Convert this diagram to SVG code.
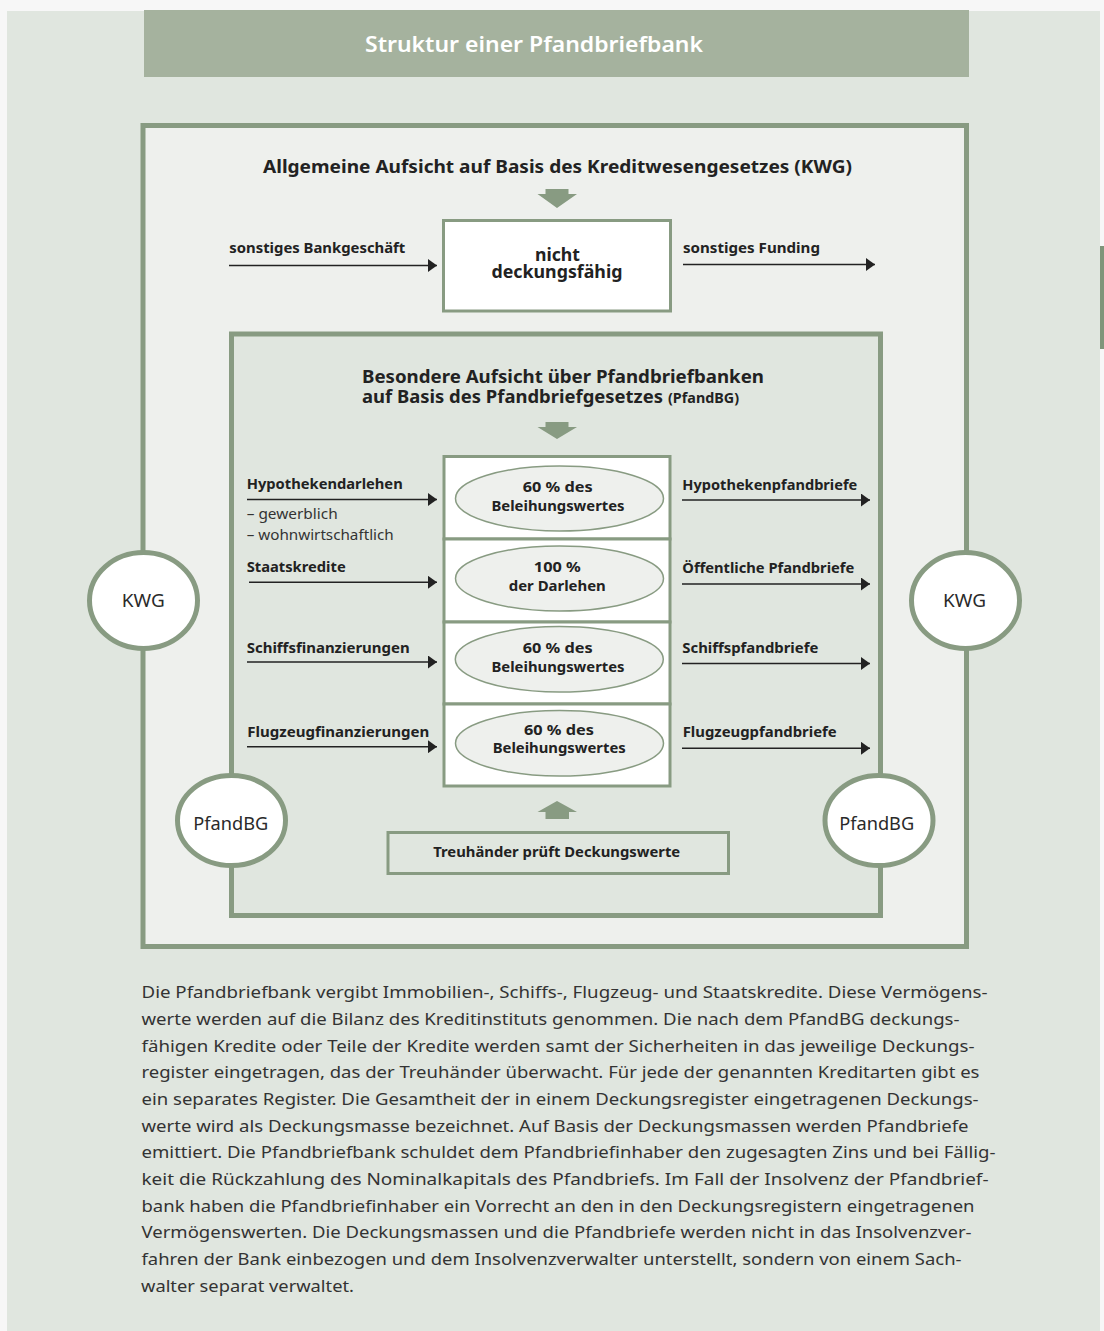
<svg xmlns="http://www.w3.org/2000/svg" width="1104" height="1331" viewBox="0 0 1104 1331">
<style>
  .frame { stroke: #889b82; stroke-width: 5; }
  .box { fill: #ffffff; stroke: #889b82; stroke-width: 3; }
  .ell { fill: #eef0ed; stroke: #889b82; stroke-width: 1.5; }
  .circ { fill: #ffffff; stroke: #889b82; stroke-width: 5; }
  .blk { fill: #889b82; }
  .t { font-family: "Noto Sans", "Open Sans", "DejaVu Sans", sans-serif; fill: #222222; }
  .b { font-weight: bold; }
  .lbl { font-size: 15px; font-weight: bold; }
  .sub { font-size: 15px; fill: #333333; }
  .hd { font-size: 18px; font-weight: bold; }
  .hd2 { font-size: 17px; font-weight: bold; }
  .reg { font-size: 18px; fill: #2a2a2a; }
  .par { font-size: 17px; fill: #333333; }
  .mid { text-anchor: middle; }
  .arr { stroke: #222222; stroke-width: 1.5; fill: none; marker-end: url(#ah); }
</style>
<defs>
  <marker id="ah" markerUnits="userSpaceOnUse" markerWidth="9" markerHeight="13" refX="9" refY="6.5" orient="auto">
    <path d="M0,0 L9,6.5 L0,13 z" fill="#222222"/>
  </marker>
</defs>

<rect x="0" y="0" width="1104" height="1331" fill="#f7f7f7"/>
<rect x="7" y="11" width="1093" height="1320" fill="#e0e6df"/>
<rect x="1100" y="246" width="4" height="103" fill="#7f957a"/>

<g id="title">
  <rect x="144" y="10" width="825" height="67" fill="#a5b29e"/>
  <text x="365" y="52" class="t" font-size="21" font-weight="600" style="fill:#ffffff" textLength="338" lengthAdjust="spacingAndGlyphs">Struktur einer Pfandbriefbank</text>
</g>

<g id="kwg-frame">
  <rect x="143" y="125.5" width="823.5" height="821" fill="#eef0ed" class="frame"/>
  <text x="263" y="172.5" class="t hd" textLength="589" lengthAdjust="spacingAndGlyphs">Allgemeine Aufsicht auf Basis des Kreditwesengesetzes (KWG)</text>
  <polygon class="blk" points="545.5,189 568.5,189 568.5,194 577,194 557,208 537.5,194 545.5,194"/>
</g>

<g id="nicht-deckungsfaehig">
  <rect x="443.5" y="220.5" width="227" height="90.5" class="box"/>
  <text x="557.5" y="260.5" class="t hd2 mid" textLength="45" lengthAdjust="spacingAndGlyphs">nicht</text>
  <text x="557" y="277.5" class="t hd2 mid" textLength="131" lengthAdjust="spacingAndGlyphs">deckungsfähig</text>
</g>

<g id="pfandbg-frame">
  <rect x="231.5" y="334" width="649" height="581.5" fill="#e0e6df" class="frame"/>
  <text x="362" y="382.5" class="t hd2" textLength="402" lengthAdjust="spacingAndGlyphs">Besondere Aufsicht über Pfandbriefbanken</text>
  <text x="362" y="402.5" class="t hd2" textLength="301" lengthAdjust="spacingAndGlyphs">auf Basis des Pfandbriefgesetzes</text>
  <text x="668" y="402.5" class="t b" font-size="14" textLength="71" lengthAdjust="spacingAndGlyphs">(PfandBG)</text>
  <polygon class="blk" points="545.5,422 568.5,422 568.5,427 577,427 557,439 537.5,427 545.5,427"/>
</g>

<g id="deckung-hypothek">
  <rect x="444" y="456.5" width="226" height="82.5" class="box"/>
  <ellipse cx="559.5" cy="498.5" rx="104" ry="32.5" class="ell"/>
  <text x="557.7" y="492.3" class="t lbl mid" textLength="70" lengthAdjust="spacingAndGlyphs">60 % des</text>
  <text x="558" y="511" class="t lbl mid" textLength="133" lengthAdjust="spacingAndGlyphs">Beleihungswertes</text>
</g>
<g id="deckung-staat">
  <rect x="444" y="539" width="226" height="83" class="box"/>
  <ellipse cx="559.5" cy="578.5" rx="104" ry="32.5" class="ell"/>
  <text x="557.3" y="571.7" class="t lbl mid" textLength="47" lengthAdjust="spacingAndGlyphs">100 %</text>
  <text x="557.3" y="591" class="t lbl mid" textLength="97" lengthAdjust="spacingAndGlyphs">der Darlehen</text>
</g>
<g id="deckung-schiff">
  <rect x="444" y="622" width="226" height="82" class="box"/>
  <ellipse cx="559.3" cy="659.3" rx="104" ry="32.7" class="ell"/>
  <text x="557.7" y="653.3" class="t lbl mid" textLength="70" lengthAdjust="spacingAndGlyphs">60 % des</text>
  <text x="558" y="671.7" class="t lbl mid" textLength="133" lengthAdjust="spacingAndGlyphs">Beleihungswertes</text>
</g>
<g id="deckung-flugzeug">
  <rect x="444" y="704" width="226" height="82" class="box"/>
  <ellipse cx="559.5" cy="743.3" rx="104" ry="32.7" class="ell"/>
  <text x="559" y="735" class="t lbl mid" textLength="70" lengthAdjust="spacingAndGlyphs">60 % des</text>
  <text x="559.2" y="753.3" class="t lbl mid" textLength="133" lengthAdjust="spacingAndGlyphs">Beleihungswertes</text>
</g>

<g id="treuhaender">
  <polygon class="blk" points="557,801 577,812 569,812 569,819 545.5,819 545.5,812 537.5,812"/>
  <rect x="388" y="832.5" width="340.5" height="41" fill="#e0e6df" stroke="#889b82" stroke-width="3"/>
  <text x="556.7" y="856.7" class="t lbl mid" textLength="247" lengthAdjust="spacingAndGlyphs">Treuhänder prüft Deckungswerte</text>
</g>

<g id="kwg-left">
  <ellipse cx="143.5" cy="600.5" rx="54" ry="48" class="circ"/>
  <text x="143.3" y="607.3" class="t reg mid" textLength="43" lengthAdjust="spacingAndGlyphs">KWG</text>
</g>
<g id="kwg-right">
  <ellipse cx="965.5" cy="600.5" rx="54" ry="48" class="circ"/>
  <text x="964.5" y="607.3" class="t reg mid" textLength="43" lengthAdjust="spacingAndGlyphs">KWG</text>
</g>
<g id="pfandbg-left">
  <ellipse cx="231.5" cy="820.5" rx="54" ry="45" class="circ"/>
  <text x="230.8" y="830" class="t reg mid" textLength="75" lengthAdjust="spacingAndGlyphs">PfandBG</text>
</g>
<g id="pfandbg-right">
  <ellipse cx="879" cy="820.5" rx="54" ry="45" class="circ"/>
  <text x="876.7" y="830" class="t reg mid" textLength="75" lengthAdjust="spacingAndGlyphs">PfandBG</text>
</g>

<g id="connectors">
  <line x1="229" y1="265.5" x2="437" y2="265.5" class="arr"/>
  <line x1="683" y1="264.5" x2="875" y2="264.5" class="arr"/>
  <line x1="247" y1="499.5" x2="437" y2="499.5" class="arr"/>
  <line x1="249" y1="582.3" x2="437" y2="582.3" class="arr"/>
  <line x1="247" y1="662" x2="437" y2="662" class="arr"/>
  <line x1="247" y1="746.7" x2="437" y2="746.7" class="arr"/>
  <line x1="682" y1="500" x2="870" y2="500" class="arr"/>
  <line x1="682" y1="584" x2="870" y2="584" class="arr"/>
  <line x1="682" y1="663.5" x2="870" y2="663.5" class="arr"/>
  <line x1="682" y1="748.3" x2="870" y2="748.3" class="arr"/>
</g>

<g id="labels">
  <text x="229.3" y="253.3" class="t lbl" textLength="176" lengthAdjust="spacingAndGlyphs">sonstiges Bankgeschäft</text>
  <text x="683" y="253.3" class="t lbl" textLength="137" lengthAdjust="spacingAndGlyphs">sonstiges Funding</text>
  <text x="246.7" y="489" class="t lbl" textLength="156" lengthAdjust="spacingAndGlyphs">Hypothekendarlehen</text>
  <text x="246.7" y="519" class="t sub" textLength="91" lengthAdjust="spacingAndGlyphs">– gewerblich</text>
  <text x="246.7" y="540" class="t sub" textLength="147" lengthAdjust="spacingAndGlyphs">– wohnwirtschaftlich</text>
  <text x="246.7" y="571.7" class="t lbl" textLength="99" lengthAdjust="spacingAndGlyphs">Staatskredite</text>
  <text x="246.7" y="653" class="t lbl" textLength="163" lengthAdjust="spacingAndGlyphs">Schiffsfinanzierungen</text>
  <text x="247.3" y="736.7" class="t lbl" textLength="182" lengthAdjust="spacingAndGlyphs">Flugzeugfinanzierungen</text>
  <text x="682.3" y="490" class="t lbl" textLength="175" lengthAdjust="spacingAndGlyphs">Hypothekenpfandbriefe</text>
  <text x="682.3" y="572.7" class="t lbl" textLength="172" lengthAdjust="spacingAndGlyphs">Öffentliche Pfandbriefe</text>
  <text x="682.3" y="653" class="t lbl" textLength="136" lengthAdjust="spacingAndGlyphs">Schiffspfandbriefe</text>
  <text x="682.7" y="737.3" class="t lbl" textLength="154" lengthAdjust="spacingAndGlyphs">Flugzeugpfandbriefe</text>
</g>

<g id="paragraph" class="t par">
  <text x="141.5" y="998.3" textLength="846" lengthAdjust="spacingAndGlyphs">Die Pfandbriefbank vergibt Immobilien-, Schiffs-, Flugzeug- und Staatskredite. Diese Vermögens-</text>
  <text x="141.5" y="1025" textLength="818" lengthAdjust="spacingAndGlyphs">werte werden auf die Bilanz des Kreditinstituts genommen. Die nach dem PfandBG deckungs-</text>
  <text x="141.5" y="1051.7" textLength="833" lengthAdjust="spacingAndGlyphs">fähigen Kredite oder Teile der Kredite werden samt der Sicherheiten in das jeweilige Deckungs-</text>
  <text x="141.5" y="1078.3" textLength="838" lengthAdjust="spacingAndGlyphs">register eingetragen, das der Treuhänder überwacht. Für jede der genannten Kreditarten gibt es</text>
  <text x="141.5" y="1105" textLength="837" lengthAdjust="spacingAndGlyphs">ein separates Register. Die Gesamtheit der in einem Deckungsregister eingetragenen Deckungs-</text>
  <text x="141.5" y="1131.7" textLength="827" lengthAdjust="spacingAndGlyphs">werte wird als Deckungsmasse bezeichnet. Auf Basis der Deckungsmassen werden Pfandbriefe</text>
  <text x="141.5" y="1158.3" textLength="854" lengthAdjust="spacingAndGlyphs">emittiert. Die Pfandbriefbank schuldet dem Pfandbriefinhaber den zugesagten Zins und bei Fällig-</text>
  <text x="141.5" y="1185" textLength="847" lengthAdjust="spacingAndGlyphs">keit die Rückzahlung des Nominalkapitals des Pfandbriefs. Im Fall der Insolvenz der Pfandbrief-</text>
  <text x="141.5" y="1211.7" textLength="833" lengthAdjust="spacingAndGlyphs">bank haben die Pfandbriefinhaber ein Vorrecht an den in den Deckungsregistern eingetragenen</text>
  <text x="141.5" y="1238.3" textLength="830" lengthAdjust="spacingAndGlyphs">Vermögenswerten. Die Deckungsmassen und die Pfandbriefe werden nicht in das Insolvenzver-</text>
  <text x="141.5" y="1265" textLength="820" lengthAdjust="spacingAndGlyphs">fahren der Bank einbezogen und dem Insolvenzverwalter unterstellt, sondern von einem Sach-</text>
  <text x="141" y="1291.7" textLength="213" lengthAdjust="spacingAndGlyphs">walter separat verwaltet.</text>
</g>
</svg>
